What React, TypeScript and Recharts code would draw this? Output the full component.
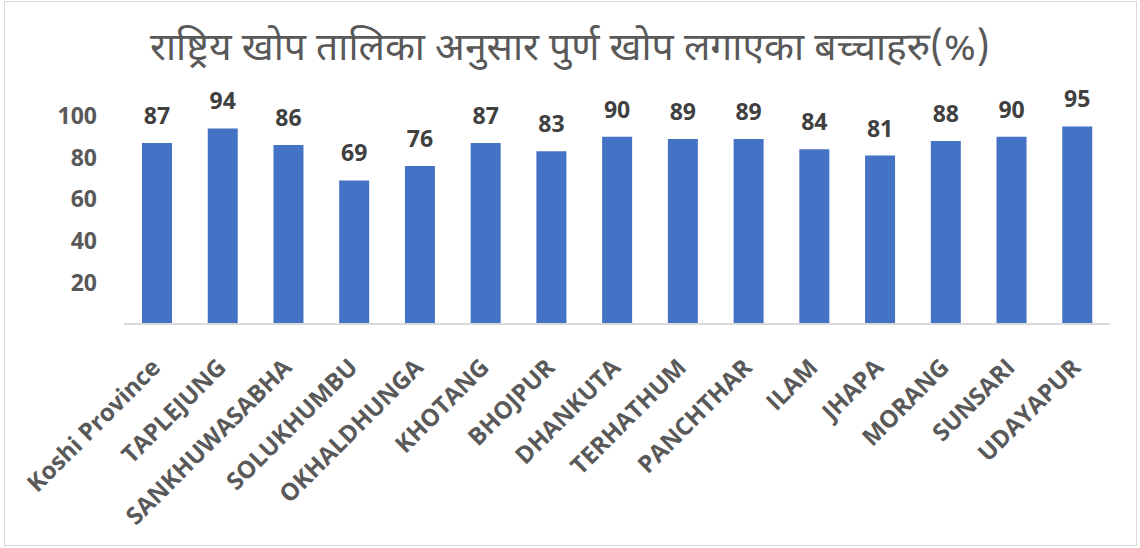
import { BarChart, Bar, XAxis, YAxis, LabelList } from "recharts";

// जिल्ला र प्रतिशत
const districts = [
  "Koshi Province", "TAPLEJUNG", "SANKHUWASABHA", "SOLUKHUMBU", "OKHALDHUNGA",
  "KHOTANG", "BHOJPUR", "DHANKUTA", "TERHATHUM", "PANCHTHAR",
  "ILAM", "JHAPA", "MORANG", "SUNSARI", "UDAYAPUR",
];
const coverage = [87, 94, 86, 69, 76, 87, 83, 90, 89, 89, 84, 81, 88, 90, 95];
const yTicks = [20, 40, 60, 80, 100];

const title = "राष्ट्रिय खोप तालिका अनुसार पुर्ण खोप लगाएका बच्चाहरु(%)";

const data = districts.map((name, i) => ({ name, value: coverage[i] }));

const FONT = "'Open Sans', 'Noto Sans', sans-serif";

// x अक्षको लेबल ४५ डिग्री घुमाएर
const XTick = (props: any) => {
  const { x, payload } = props;
  const tx = x + 5;
  const ty = 369;
  return (
    <text
      x={tx}
      y={ty}
      transform={`rotate(-45, ${tx}, ${ty})`}
      textAnchor="end"
      fill="#595959"
      fontSize={24}
      fontWeight={700}
      fontFamily={FONT}
    >
      {payload.value}
    </text>
  );
};

export default function App() {
  return (
    <div style={{ position: "relative", width: 1140, height: 548, background: "#fff" }}>
      <style>{`body{margin:0}`}</style>
      <div
        style={{
          position: "absolute", left: 4, top: 1, width: 1133, height: 545,
          border: "1px solid #d9d9d9", boxSizing: "border-box",
        }}
      />
      <div
        style={{
          position: "absolute", left: 0, top: 25, width: 1140, textAlign: "center",
          fontSize: 39, lineHeight: "normal", color: "#595959",
          fontFamily: "'Noto Sans Devanagari', 'Lohit Devanagari', 'Noto Sans', sans-serif",
        }}
      >
        {title}
      </div>
      <div style={{ position: "absolute", left: 0, top: 0 }}>
        <BarChart
          width={1140}
          height={548}
          data={data}
          margin={{ top: 116, right: 30, bottom: 0, left: 0 }}
        >
          <XAxis
            dataKey="name"
            interval={0}
            height={224}
            tickLine={false}
            axisLine={{ stroke: "#d9d9d9", strokeWidth: 2 }}
            tick={<XTick />}
          />
          <YAxis
            domain={[0, 100]}
            ticks={yTicks}
            width={124}
            axisLine={false}
            tickLine={false}
            tickSize={0}
            tickMargin={27}
            tick={{ fill: "#595959", fontSize: 23, fontWeight: 700, fontFamily: FONT }}
          />
          <Bar dataKey="value" fill="#4472C4" barSize={30} isAnimationActive={false}>
            <LabelList
              dataKey="value"
              position="top"
              offset={19}
              fill="#404040"
              fontSize={23}
              fontWeight={700}
              fontFamily={FONT}
            />
          </Bar>
        </BarChart>
      </div>
    </div>
  );
}
